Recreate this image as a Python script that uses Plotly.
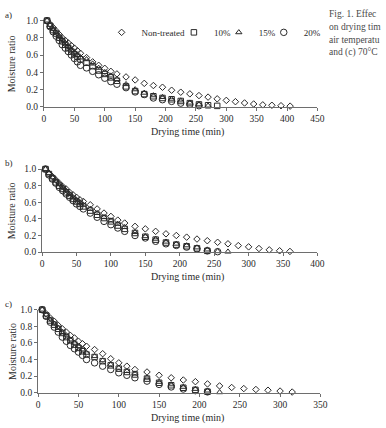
import plotly.graph_objects as go

# ---------------- data ----------------
TIME = [5, 10, 15, 20, 25, 30, 35, 40, 45, 50, 55, 60,
        70, 80, 90, 100, 110, 120,
        135, 150, 165, 180, 195, 210, 225, 240, 255, 270, 285, 300,
        315, 330, 345, 360, 375, 390, 405]

SERIES = ["Non-treated", "10%", "15%", "20%"]

a_non = [1.00, 0.96, 0.92, 0.88, 0.84, 0.80, 0.77, 0.74, 0.71, 0.68, 0.65, 0.62,
         0.57, 0.52, 0.48, 0.445, 0.41, 0.38,
         0.345, 0.31, 0.27, 0.245, 0.225, 0.19, 0.167, 0.148, 0.128, 0.11, 0.09,
         0.072, 0.057, 0.042, 0.03, 0.02, 0.015, 0.01, 0.005]
a_10 = [1.00, 0.94, 0.89, 0.85, 0.80, 0.76, 0.72, 0.68, 0.64, 0.61, 0.58, 0.55,
        0.51, 0.47, 0.42, 0.38, 0.34, 0.30,
        0.235, 0.18, 0.145, 0.12, 0.10, 0.085, 0.065, 0.04, 0.025, 0.015, 0.008]
a_15 = [1.00, 0.95, 0.90, 0.86, 0.82, 0.78, 0.74, 0.70, 0.66, 0.63, 0.60, 0.57,
        0.55, 0.50, 0.45, 0.40, 0.36, 0.32,
        0.26, 0.20, 0.16, 0.13, 0.11, 0.09, 0.07, 0.045, 0.025, 0.01]
a_20 = [1.00, 0.93, 0.87, 0.82, 0.77, 0.72, 0.68, 0.64, 0.60, 0.56, 0.52, 0.48,
        0.45, 0.41, 0.37, 0.33, 0.29, 0.26,
        0.22, 0.17, 0.14, 0.10, 0.08, 0.06, 0.04, 0.025, 0.01]

b_non = [1.00, 0.95, 0.91, 0.87, 0.83, 0.79, 0.76, 0.72, 0.69, 0.66, 0.63, 0.61,
         0.57, 0.52, 0.47, 0.43, 0.385, 0.35,
         0.31, 0.28, 0.25, 0.22, 0.20, 0.18, 0.157, 0.137, 0.118, 0.10, 0.078,
         0.063, 0.043, 0.027, 0.016, 0.008]
b_10 = [1.00, 0.94, 0.89, 0.84, 0.80, 0.76, 0.72, 0.68, 0.64, 0.61, 0.58, 0.55,
        0.50, 0.45, 0.41, 0.37, 0.32, 0.28,
        0.23, 0.185, 0.15, 0.115, 0.09, 0.07, 0.045, 0.015]
b_15 = [1.00, 0.95, 0.90, 0.86, 0.82, 0.78, 0.74, 0.70, 0.66, 0.63, 0.60, 0.57,
        0.52, 0.47, 0.42, 0.38, 0.34, 0.30,
        0.24, 0.19, 0.16, 0.125, 0.10, 0.08, 0.055, 0.03, 0.01, 0.005]
b_20 = [1.00, 0.93, 0.88, 0.83, 0.78, 0.74, 0.70, 0.66, 0.62, 0.58, 0.55, 0.52,
        0.47, 0.42, 0.37, 0.33, 0.29, 0.25,
        0.20, 0.17, 0.13, 0.10, 0.08, 0.06, 0.04, 0.015, 0.005]

c_non = [1.00, 0.95, 0.90, 0.86, 0.81, 0.77, 0.73, 0.69, 0.66, 0.62, 0.59, 0.56,
         0.52, 0.47, 0.41, 0.36, 0.32, 0.28,
         0.25, 0.21, 0.18, 0.153, 0.133, 0.106, 0.082, 0.063, 0.05, 0.039, 0.03,
         0.02, 0.008]
c_10 = [1.00, 0.93, 0.87, 0.82, 0.77, 0.72, 0.67, 0.63, 0.58, 0.54, 0.50, 0.46,
        0.43, 0.38, 0.33, 0.29, 0.25, 0.22,
        0.17, 0.12, 0.09, 0.06, 0.035, 0.012]
c_15 = [1.00, 0.94, 0.88, 0.83, 0.78, 0.73, 0.69, 0.64, 0.60, 0.56, 0.52, 0.48,
        0.44, 0.39, 0.34, 0.30, 0.26, 0.23,
        0.18, 0.13, 0.10, 0.07, 0.045, 0.025, 0.005]
c_20 = [1.00, 0.92, 0.85, 0.79, 0.73, 0.67, 0.62, 0.57, 0.53, 0.49, 0.45, 0.40,
        0.36, 0.32, 0.28, 0.24, 0.21, 0.18,
        0.14, 0.10, 0.07, 0.045, 0.025, 0.01]

X_MAX = [450, 400, 350]
Y_TICKS = [0.0, 0.2, 0.4, 0.6, 0.8, 1.0]
PANEL_LABELS = ["a)", "b)", "c)"]
# caption as visible in the (cropped) source figure
CAPTION = ["Fig. 1. Effec", "on drying tim", "air temperatu", "and (c) 70°C"]

# ---------------- style ----------------
W, H = 386, 428
FONT = "Liberation Serif, Times New Roman, serif"
INK = "#2a2a2a"
SYMBOLS = ["diamond-open", "square-open", "triangle-up-open", "circle-open"]
SIZES = [5, 5.5, 5.5, 6.5]

# pixel boxes of the three plot areas: (x0, x1, ytop, ybottom)
BOXES = [(43, 323, 16, 104), (41, 323, 168, 253), (37, 326, 312, 397)]

def px(x):
    return x / W

def py(y):
    return 1 - y / H

panels = [[a_non, a_10, a_15, a_20], [b_non, b_10, b_15, b_20], [c_non, c_10, c_15, c_20]]

fig = go.Figure()
for p, data in enumerate(panels):
    xa = "x" if p == 0 else f"x{p+1}"
    ya = "y" if p == 0 else f"y{p+1}"
    for s, mr in enumerate(data):
        fig.add_trace(go.Scatter(
            x=TIME[:len(mr)], y=mr, mode="markers",
            name=SERIES[s], xaxis=xa, yaxis=ya,
            showlegend=(p == 0),
            legend="legend" if s == 0 else f"legend{s+1}",
            cliponaxis=False,
            marker=dict(symbol=SYMBOLS[s], size=SIZES[s], color=INK,
                        line=dict(width=1, color=INK)),
        ))

layout = dict(
    width=W, height=H, margin=dict(l=0, r=0, t=0, b=0),
    paper_bgcolor="white", plot_bgcolor="white",
    font=dict(family=FONT, size=9.5, color=INK),
)

annotations = []
for p, (x0, x1, yt, yb) in enumerate(BOXES):
    k = "" if p == 0 else str(p + 1)
    layout["xaxis" + k] = dict(
        domain=[px(x0), px(x1)], range=[0, X_MAX[p]], dtick=50,
        anchor="y" + k, showgrid=False, zeroline=False,
        showline=True, linecolor="#6e6e6e", linewidth=1,
        ticks="outside", ticklen=3, tickcolor="#6e6e6e",
        tickfont=dict(family=FONT, size=9.5, color=INK),
    )
    layout["yaxis" + k] = dict(
        domain=[py(yb), py(yt)], range=[0, 1.0], tickvals=Y_TICKS,
        tickformat=".1f", anchor="x" + k, showgrid=False, zeroline=False,
        showline=True, linecolor="#6e6e6e", linewidth=1,
        ticks="outside", ticklen=3, tickcolor="#6e6e6e",
        tickfont=dict(family=FONT, size=9.5, color=INK),
    )
    annotations.append(dict(text="Drying time (min)", xref="paper", yref="paper",
                            x=px(190), y=py(yb + 26), showarrow=False,
                            xanchor="center", yanchor="middle",
                            font=dict(family=FONT, size=10, color=INK)))
    annotations.append(dict(text="Moisture ratio", xref="paper", yref="paper",
                            x=px(10), y=py((yt + yb) / 2), textangle=-90,
                            showarrow=False, xanchor="center", yanchor="middle",
                            font=dict(family=FONT, size=10, color=INK)))
    annotations.append(dict(text=PANEL_LABELS[p], xref="paper", yref="paper",
                            x=px(1), y=py(yt - 6), showarrow=False,
                            xanchor="left", yanchor="middle",
                            font=dict(family=FONT, size=9, color=INK)))

for i, line in enumerate(CAPTION):
    annotations.append(dict(text=line, xref="paper", yref="paper",
                            x=px(333), y=py(9.5 + 13 * i), showarrow=False,
                            xanchor="left", yanchor="middle",
                            font=dict(family=FONT, size=9.5, color="#4a4a4a")))

layout["annotations"] = annotations

# legend item positions (marker centres, px)
LEG_X = [122, 196, 242, 288]
for s in range(4):
    key = "legend" if s == 0 else f"legend{s+1}"
    layout[key] = dict(x=px(LEG_X[s] - 20), y=py(28), xanchor="left",
                       yanchor="middle", bgcolor="rgba(0,0,0,0)",
                       font=dict(family=FONT, size=9, color=INK),
                       itemwidth=30, tracegroupgap=0)

fig.update_layout(**layout)
fig.write_html("out.html")
